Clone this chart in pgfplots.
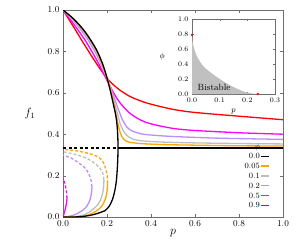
\documentclass[border=0pt]{standalone}
\usepackage{pgfplots}
\pgfplotsset{compat=1.18}
\definecolor{cOrange}{RGB}{255,165,0}
\definecolor{cGray}{RGB}{190,190,190}
\definecolor{cPurple}{RGB}{190,140,255}
\definecolor{cMag}{RGB}{255,0,255}
\definecolor{cRed}{RGB}{255,0,0}
\definecolor{axgray}{RGB}{110,110,110}
\definecolor{fillgray}{RGB}{192,192,192}
\begin{document}
\begin{tikzpicture}
\useasboundingbox (0,0) rectangle (300pt,242pt);
\begin{axis}[
  at={(63pt,25pt)}, anchor=south west, scale only axis,
  width=220pt, height=207pt,
  xmin=0, xmax=1, ymin=0, ymax=1,
  xtick={0,0.2,0.4,0.6,0.8,1.0}, ytick={0,0.2,0.4,0.6,0.8,1.0},
  tick align=inside, major tick length=3pt,
  axis line style={axgray}, tick style={axgray},
  ticklabel style={font=\small},
  xticklabel style={/pgf/number format/.cd,fixed,fixed zerofill,precision=1},
  yticklabel style={/pgf/number format/.cd,fixed,fixed zerofill,precision=1},
  xlabel={$p$}, ylabel={$f_1$},
  label style={font=\large},
  xlabel style={at={(axis description cs:0.5,-0.08)}, anchor=center},
  ylabel style={at={(axis description cs:-0.15,0.5)}, anchor=center, rotate=-90},
  legend cell align=right, legend plot pos=right,
  legend style={at={(axis description cs:0.955,0.025)}, anchor=south east,
    draw=none, fill=none, font=\footnotesize,
    nodes={inner sep=0.8pt, text height=6pt, text depth=1pt}, row sep=1.2pt},
  every axis plot/.append style={line width=1.3pt},
]
\addlegendimage{empty legend}
\addlegendimage{legend image code/.code={\draw[black, line width=1.3pt] (0pt,0pt) -- (8pt,0pt);}}
\addlegendimage{legend image code/.code={\draw[cOrange, line width=1.3pt] (0pt,0pt) -- (8pt,0pt);}}
\addlegendimage{legend image code/.code={\draw[cGray, line width=1.3pt] (0pt,0pt) -- (8pt,0pt);}}
\addlegendimage{legend image code/.code={\draw[cPurple, line width=1.3pt] (0pt,0pt) -- (8pt,0pt);}}
\addlegendimage{legend image code/.code={\draw[cMag, line width=1.3pt] (0pt,0pt) -- (8pt,0pt);}}
\addlegendimage{legend image code/.code={\draw[cRed, line width=1.3pt] (0pt,0pt) -- (8pt,0pt);}}
\addlegendentry{$\phi$}
\addlegendentry{0.0}
\addlegendentry{0.05}
\addlegendentry{0.1}
\addlegendentry{0.2}
\addlegendentry{0.5}
\addlegendentry{0.9}

% red phi=0.9
\addplot[cRed, smooth, forget plot] coordinates {(0,1)(0.05,0.915)(0.1,0.828)(0.15,0.745)(0.2,0.67)(0.25,0.62)(0.3,0.585)(0.35,0.562)(0.4,0.545)(0.5,0.52)(0.6,0.505)(0.8,0.487)(1,0.47)};
% magenta phi=0.5
\addplot[cMag, smooth, forget plot] coordinates {(0,1)(0.05,0.93)(0.1,0.855)(0.15,0.765)(0.2,0.66)(0.25,0.565)(0.3,0.505)(0.35,0.47)(0.4,0.45)(0.5,0.428)(0.6,0.418)(0.8,0.407)(1,0.4)};
\addplot[cMag, smooth, forget plot] coordinates {(0,0)(0.006,0.02)(0.012,0.045)(0.016,0.068)(0.018,0.09)};
\addplot[cMag, smooth, dash pattern=on 3pt off 2pt, forget plot] coordinates {(0.018,0.09)(0.016,0.12)(0.01,0.155)(0,0.19)};
% purple phi=0.2
\addplot[cPurple, smooth, forget plot] coordinates {(0,1)(0.05,0.945)(0.1,0.878)(0.15,0.79)(0.2,0.67)(0.225,0.6)(0.25,0.525)(0.27,0.47)(0.29,0.435)(0.31,0.418)(0.35,0.403)(0.4,0.396)(0.5,0.389)(0.7,0.381)(1,0.375)};
\addplot[cPurple, smooth, forget plot] coordinates {(0,0)(0.02,0.002)(0.045,0.008)(0.071,0.02)(0.1,0.042)(0.117,0.068)(0.127,0.1)(0.132,0.146)};
\addplot[cPurple, smooth, dash pattern=on 3pt off 2pt, forget plot] coordinates {(0.132,0.146)(0.126,0.185)(0.115,0.213)(0.1,0.237)(0.071,0.262)(0.04,0.283)(0,0.3)};
% gray phi=0.1
\addplot[cGray, smooth, forget plot] coordinates {(0,1)(0.05,0.952)(0.1,0.888)(0.15,0.8)(0.2,0.67)(0.225,0.585)(0.245,0.51)(0.26,0.45)(0.275,0.415)(0.29,0.395)(0.31,0.38)(0.35,0.369)(0.45,0.362)(0.6,0.358)(0.8,0.355)(1,0.353)};
\addplot[cGray, smooth, forget plot] coordinates {(0,0)(0.05,0.001)(0.1,0.012)(0.132,0.034)(0.16,0.062)(0.176,0.098)(0.184,0.14)(0.186,0.18)};
\addplot[cGray, smooth, dash pattern=on 3pt off 2pt, forget plot] coordinates {(0.186,0.18)(0.18,0.215)(0.162,0.243)(0.13,0.27)(0.1,0.287)(0.05,0.304)(0,0.315)};
% orange phi=0.05
\addplot[cOrange, smooth, forget plot] coordinates {(0,1)(0.05,0.955)(0.1,0.893)(0.15,0.81)(0.2,0.675)(0.225,0.58)(0.24,0.5)(0.25,0.45)(0.258,0.415)(0.267,0.39)(0.28,0.372)(0.3,0.362)(0.35,0.355)(0.45,0.35)(0.6,0.347)(0.8,0.344)(1,0.343)};
\addplot[cOrange, smooth, forget plot] coordinates {(0,0)(0.07,0.001)(0.11,0.008)(0.147,0.026)(0.175,0.05)(0.192,0.085)(0.2,0.122)(0.203,0.163)};
\addplot[cOrange, smooth, dash pattern=on 3pt off 2pt, forget plot] coordinates {(0.203,0.163)(0.2,0.21)(0.19,0.245)(0.177,0.275)(0.15,0.295)(0.117,0.307)(0.06,0.32)(0,0.327)};
% black phi=0
\addplot[black, smooth, forget plot] coordinates {(0,0)(0.06,0.0005)(0.1,0.004)(0.14,0.012)(0.17,0.022)(0.19,0.03)(0.21,0.052)(0.225,0.085)(0.235,0.125)(0.242,0.17)(0.246,0.22)(0.249,0.28)(0.25,0.3333)(0.249,0.39)(0.246,0.44)(0.24,0.49)(0.23,0.54)(0.215,0.61)(0.2,0.672)(0.18,0.74)(0.15,0.812)(0.1,0.895)(0.05,0.955)(0,1)};
\addplot[black, forget plot] coordinates {(0.25,0.3333)(1,0.3333)};
\addplot[black, dash pattern=on 3pt off 2.5pt, forget plot] coordinates {(0,0.3333)(0.25,0.3333)};
\end{axis}

\begin{axis}[
  at={(192pt,148pt)}, anchor=south west, scale only axis,
  width=83pt, height=75pt,
  xmin=0, xmax=0.3, ymin=0, ymax=1,
  xtick={0,0.1,0.2,0.3}, ytick={0,0.2,0.4,0.6,0.8,1.0},
  tick align=inside, major tick length=2pt,
  axis line style={axgray}, tick style={axgray},
  ticklabel style={font=\scriptsize},
  xticklabel style={/pgf/number format/.cd,fixed,fixed zerofill,precision=1},
  yticklabel style={/pgf/number format/.cd,fixed,fixed zerofill,precision=1},
  xlabel={$p$}, ylabel={$\phi$},
  label style={font=\footnotesize},
  xlabel style={at={(axis description cs:0.5,-0.24)}, anchor=center},
  ylabel style={at={(axis description cs:-0.36,0.5)}, anchor=center, rotate=-90},
  clip=false,
]
\addplot[fill=fillgray, draw=none, smooth] coordinates {(0,0.788)(0.002,0.7)(0.006,0.63)(0.018,0.5)(0.042,0.367)(0.078,0.257)(0.114,0.168)(0.15,0.093)(0.186,0.035)(0.215,0.008)(0.238,0)} \closedcycle;
\node[font=\small, anchor=west] at (axis cs:0.008,0.09) {Bistable};
\addplot[only marks, mark=*, mark size=1pt, cRed] coordinates {(0,0.788)(0.238,0)};
\end{axis}
\end{tikzpicture}
\end{document}
